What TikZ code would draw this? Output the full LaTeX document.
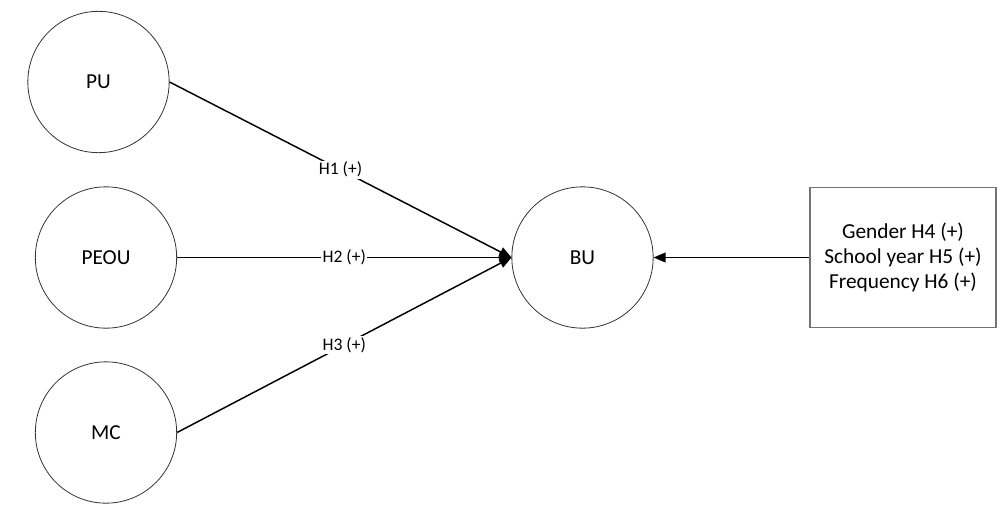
\documentclass[tikz,border=0pt]{standalone}
\usepackage{fontspec}
\setmainfont{Carlito}
\usetikzlibrary{arrows,positioning}

\begin{document}
\begin{tikzpicture}[x=0.75pt,y=-0.75pt,
  construct/.style={circle, draw=black!80, line width=0.6pt, minimum size=106pt, inner sep=0pt, font=\fontsize{16}{19}\selectfont},
  moderator/.style={draw=black!55, line width=0.8pt, minimum width=139.5pt, minimum height=105.5pt, align=center, font=\fontsize{16}{19}\selectfont},
  hyp/.style={fill=white, inner sep=1pt, font=\fontsize{13.2}{15}\selectfont},
  >=triangle 45]
  \useasboundingbox (0,0) rectangle (1007,504);
  \node[construct] (pu) at (98.5,82) {PU};
  \node[construct] (peou) at (106,257.5) {PEOU};
  \node[construct] (mc) at (106,432.5) {MC};
  \node[construct] (bu) at (582.5,257.5) {BU};
  \node[moderator] (ctrl) at (903,257.5) {Gender H4 (+)\\School year H5 (+)\\Frequency H6 (+)};
  \path[->, line width=1.1pt]
  (pu.east) edge node [hyp] {H1 (+)} (bu.west)
  (peou) edge node [hyp] {H2 (+)} (bu.west)
  (mc.east) edge node [hyp] {H3 (+)} (bu.west)
  (ctrl) edge (bu)
;
\end{tikzpicture}
\end{document}
